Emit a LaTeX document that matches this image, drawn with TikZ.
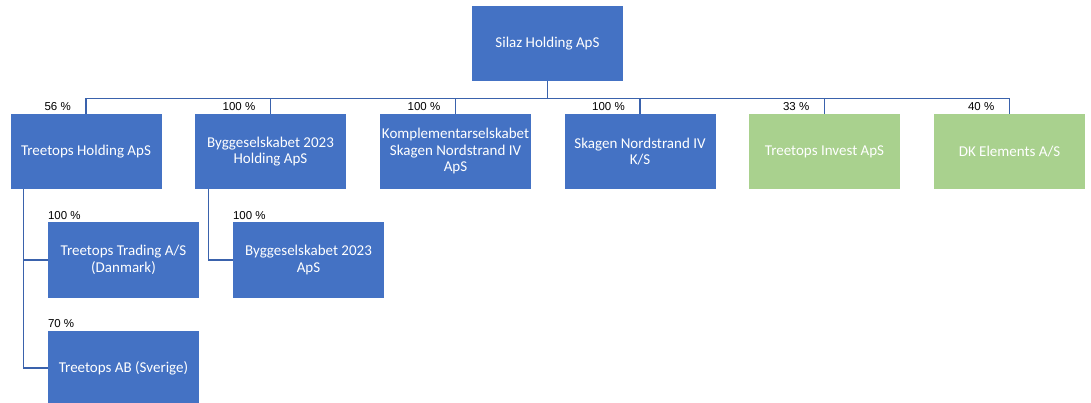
\documentclass[tikz,border=0pt]{standalone}
\usepackage{fontspec}
\setmainfont{Carlito}
\newfontfamily\pctfont{Liberation Sans}
\definecolor{boxblue}{HTML}{4472C4}
\definecolor{boxgreen}{HTML}{A9D18E}
\definecolor{linkblue}{HTML}{3A62AC}

\begin{document}
\begin{tikzpicture}[x=1pt, y=-1pt,
							company/.style = {fill=#1, text=white, minimum width=151pt, minimum height=75pt, inner sep=1pt, align=center, font=\fontsize{15}{16.5}\selectfont},
							company/.default = boxblue,
							link/.style = {draw=linkblue, line width=1.3pt},
							share/.style = {font=\pctfont\fontsize{11.5}{13}\selectfont, inner sep=0pt}
						]
						\useasboundingbox (0,0) rectangle (1091,403);
						\node[company] (silaz) at (547.5,43.5) {Silaz Holding ApS};
						\foreach \nm/\xc/\pct/\col/\txt in {th/86/56/boxblue/{Treetops Holding ApS}, bh/270.5/100/boxblue/{Byggeselskabet 2023\\Holding ApS}, ks/455.5/100/boxblue/{Komplementarselskabet\\Skagen Nordstrand IV\\ApS}, sn/640/100/boxblue/{Skagen Nordstrand IV\\K/S}, ti/824.5/33/boxgreen/{Treetops Invest ApS}, dk/1009.5/40/boxgreen/{DK Elements A/S}}{
							\node[company=\col] (\nm) at (\xc,151.5) {\txt};
							\draw[link] (silaz.south) -- ++(0,17) -| (\nm.north);
							\node[share, anchor=south east] (\nm-pct) at ([xshift=-15pt, yshift=3pt]\nm.north) {\pct{} \%};}
						% datterselskaber
						\node[company] (tt) at (123.5,260) {Treetops Trading A/S\\(Danmark)};
						\node[company] (tab) at (123.5,368) {Treetops AB (Sverige)};
						\node[company] (baps) at (308.5,260) {Byggeselskabet 2023\\ApS};
						\draw[link] ([xshift=13.5pt]th.south west) |- (tt.west);
						\draw[link] ([xshift=13.5pt]th.south west) |- (tab.west);
						\draw[link] ([xshift=14pt]bh.south west) |- (baps.west);
						\foreach \nm/\pct in {tt/100, tab/70, baps/100}{ \node[share, anchor=south west] (\nm-pct) at ([yshift=2pt]\nm.north west) {\pct{} \%};}
					\end{tikzpicture}
\end{document}
